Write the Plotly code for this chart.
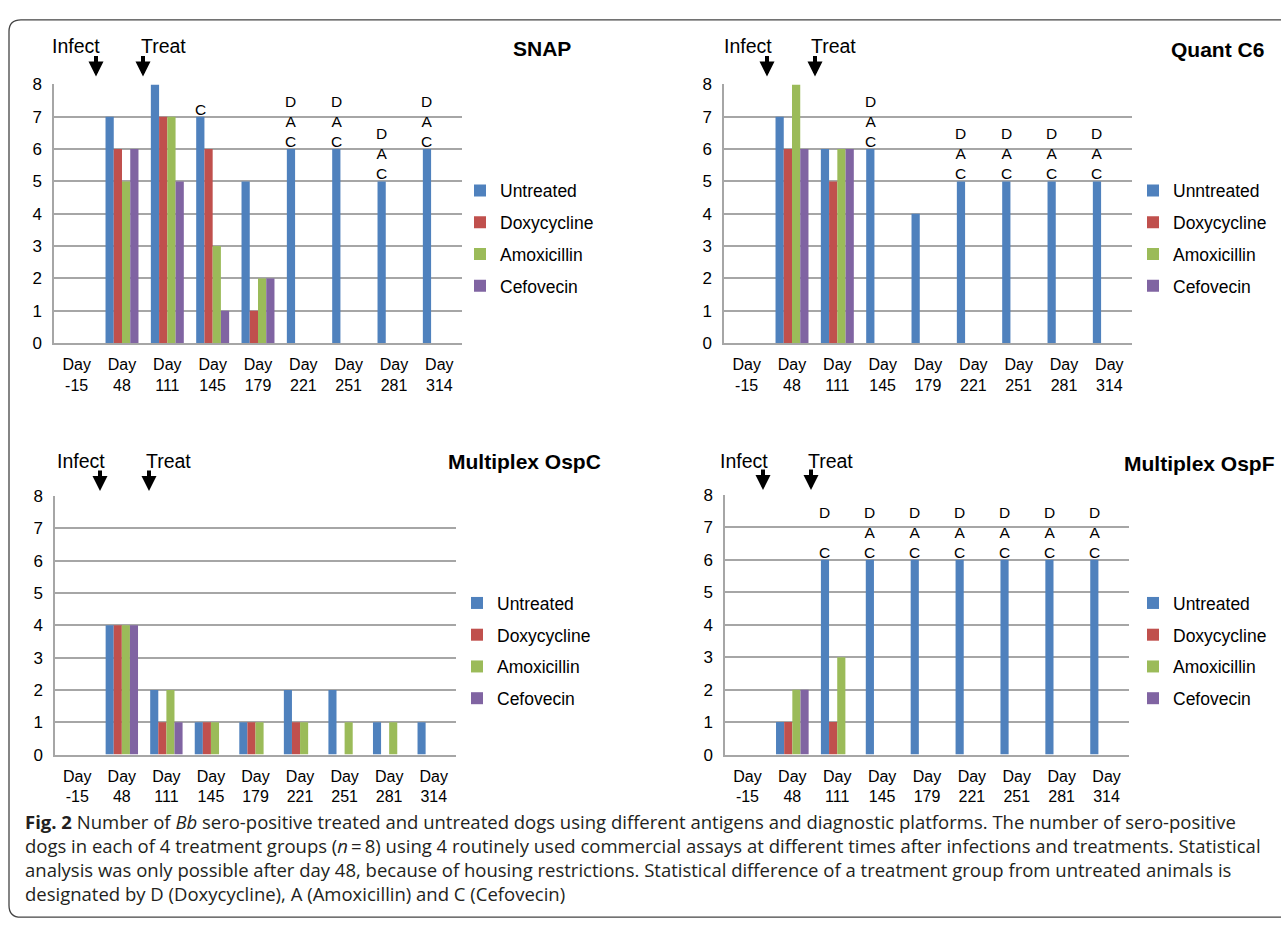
import plotly.graph_objects as go

W, H = 1281, 937

# ---------------- data ----------------
days = ["Day<br>-15", "Day<br>48", "Day<br>111", "Day<br>145", "Day<br>179",
        "Day<br>221", "Day<br>251", "Day<br>281", "Day<br>314"]
groups = ["Untreated", "Doxycycline", "Amoxicillin", "Cefovecin"]
groups_c6 = ["Unntreated", "Doxycycline", "Amoxicillin", "Cefovecin"]
colors = ["#4F81BD", "#C0504D", "#9BBB59", "#8064A2"]

snap_untreated = [0, 7, 8, 7, 5, 6, 6, 5, 6]
snap_doxy = [0, 6, 7, 6, 1, 0, 0, 0, 0]
snap_amox = [0, 5, 7, 3, 2, 0, 0, 0, 0]
snap_cefo = [0, 6, 5, 1, 2, 0, 0, 0, 0]
snap_sig = ["", "", "", "C", "", "D<br>A<br>C", "D<br>A<br>C", "D<br>A<br>C", "D<br>A<br>C"]

c6_untreated = [0, 7, 6, 6, 4, 5, 5, 5, 5]
c6_doxy = [0, 6, 5, 0, 0, 0, 0, 0, 0]
c6_amox = [0, 8, 6, 0, 0, 0, 0, 0, 0]
c6_cefo = [0, 6, 6, 0, 0, 0, 0, 0, 0]
c6_sig = ["", "", "", "D<br>A<br>C", "", "D<br>A<br>C", "D<br>A<br>C", "D<br>A<br>C", "D<br>A<br>C"]

ospc_untreated = [0, 4, 2, 1, 1, 2, 2, 1, 1]
ospc_doxy = [0, 4, 1, 1, 1, 1, 0, 0, 0]
ospc_amox = [0, 4, 2, 1, 1, 1, 1, 1, 0]
ospc_cefo = [0, 4, 1, 0, 0, 0, 0, 0, 0]
ospc_sig = ["", "", "", "", "", "", "", "", ""]

ospf_untreated = [0, 1, 6, 6, 6, 6, 6, 6, 6]
ospf_doxy = [0, 1, 1, 0, 0, 0, 0, 0, 0]
ospf_amox = [0, 2, 3, 0, 0, 0, 0, 0, 0]
ospf_cefo = [0, 2, 0, 0, 0, 0, 0, 0, 0]
ospf_sig = ["", "", "D<br>\u00a0<br>C", "D<br>A<br>C", "D<br>A<br>C", "D<br>A<br>C",
            "D<br>A<br>C", "D<br>A<br>C", "D<br>A<br>C"]

yticks = [0, 1, 2, 3, 4, 5, 6, 7, 8]

caption_lines = [
    "<b>Fig. 2</b> Number of <i>Bb</i> sero-positive treated and untreated dogs using different antigens and diagnostic platforms. The number of sero-positive",
    "dogs in each of 4 treatment groups (<i>n</i>\u2009=\u20098) using 4 routinely used commercial assays at different times after infections and treatments. Statistical",
    "analysis was only possible after day 48, because of housing restrictions. Statistical difference of a treatment group from untreated animals is",
    "designated by D (Doxycycline), A (Amoxicillin) and C (Cefovecin)",
]

# ---------------- layout geometry (pixels) ----------------
FONT = "Liberation Sans, Arial, sans-serif"
panels = [
    dict(title="SNAP", names=groups, vals=[snap_untreated, snap_doxy, snap_amox, snap_cefo], sig=snap_sig,
         box=(54, 462, 77, 341), title_xy=(542, 40), infect=(76, 38, 96, 69), treat=(163, 38, 143, 69),
         legend=(460, 167)),
    dict(title="Quant C6", names=groups_c6, vals=[c6_untreated, c6_doxy, c6_amox, c6_cefo], sig=c6_sig,
         box=(724, 1132, 77, 341), title_xy=(1217, 41), infect=(748, 38, 767, 69), treat=(834, 38, 815, 69),
         legend=(1133, 167)),
    dict(title="Multiplex OspC", names=groups, vals=[ospc_untreated, ospc_doxy, ospc_amox, ospc_cefo], sig=ospc_sig,
         box=(55, 456, 497, 761), title_xy=(524, 462), infect=(81, 461, 100, 492), treat=(168, 461, 149, 492),
         legend=(457, 588)),
    dict(title="Multiplex OspF", names=groups, vals=[ospf_untreated, ospf_doxy, ospf_amox, ospf_cefo], sig=ospf_sig,
         box=(725, 1129, 496, 761), title_xy=(1199, 464), infect=(744, 461, 763, 491), treat=(830, 461, 811, 491),
         legend=(1133, 588)),
]

BARGAP = 0.273
n_series = 4
bar_w = (1 - BARGAP) / n_series
blue_offset = -(1 - BARGAP) / 2 + bar_w / 2

GRID = "#A6A6A6"

fig = go.Figure()
annotations = []
layout_axes = {}

for k, p in enumerate(panels, start=1):
    sfx = "" if k == 1 else str(k)
    lg = "legend" if k == 1 else f"legend{k}"
    for j, (name, vals) in enumerate(zip(p["names"], p["vals"])):
        fig.add_trace(go.Bar(
            x=days, y=vals, name=name, marker=dict(color=colors[j], line=dict(width=0)),
            xaxis=f"x{sfx}", yaxis=f"y{sfx}", legend=lg, legendgroup=f"g{k}_{j}",
            hoverinfo="skip",
        ))
    x0, x1, y0, y1 = p["box"]
    layout_axes[f"xaxis{sfx}"] = dict(
        domain=[x0 / W, x1 / W], anchor=f"y{sfx}", type="category",
        categoryorder="array", categoryarray=days, range=[-0.5, len(days) - 0.5],
        showline=True, linecolor=GRID, linewidth=1.5, showgrid=False,
        ticks="", ticklabelstandoff=6,
        tickfont=dict(family=FONT, size=16, color="#000"), fixedrange=True,
    )
    layout_axes[f"yaxis{sfx}"] = dict(
        domain=[1 - y1 / H, 1 - y0 / H], anchor=f"x{sfx}", range=[0, 8],
        tickvals=yticks, showline=True, linecolor=GRID, linewidth=1.5,
        showgrid=True, gridcolor=GRID, gridwidth=1.5, zeroline=False,
        ticks="", ticklabelstandoff=7,
        tickfont=dict(family=FONT, size=17, color="#000"), fixedrange=True,
    )
    lx, ly = p["legend"]
    layout_axes[lg] = dict(
        x=lx / W, y=1 - ly / H, xanchor="left", yanchor="top",
        font=dict(family=FONT, size=17.5, color="#000"), traceorder="grouped",
        tracegroupgap=6, bgcolor="rgba(0,0,0,0)",
    )
    # significance letters above the untreated bars
    for i, s in enumerate(p["sig"]):
        if s:
            annotations.append(dict(
                xref=f"x{sfx}", yref=f"y{sfx}", x=i + blue_offset, y=p["vals"][0][i],
                text=s, showarrow=False, yanchor="bottom", xanchor="center", yshift=-3,
                font=dict(family=FONT, size=15.5, color="#000"),
            ))
    # titles
    tx, ty = p["title_xy"]
    annotations.append(dict(xref="paper", yref="paper", x=tx / W, y=1 - ty / H, text=f"<b>{p['title']}</b>",
                            showarrow=False, xanchor="center", yanchor="middle",
                            font=dict(family=FONT, size=21, color="#000")))
    # Infect / Treat labels and arrows
    for lab, (txx, tyy, axx, ayy) in (("Infect", p["infect"]), ("Treat", p["treat"])):
        annotations.append(dict(xref="paper", yref="paper", x=txx / W, y=1 - tyy / H, text=lab,
                                showarrow=False, xanchor="center", yanchor="middle",
                                font=dict(family=FONT, size=19.5, color="#000")))
        annotations.append(dict(xref="paper", yref="paper", x=axx / W, y=1 - ayy / H, text="",
                                showarrow=True, arrowhead=2, arrowsize=0.75, arrowwidth=4,
                                arrowcolor="#000", ax=0, ay=-22))

# caption (one block, left aligned)
annotations.append(dict(xref="paper", yref="paper", x=23 / W, y=1 - 866 / H, text="<br>".join(caption_lines),
                        showarrow=False, xanchor="left", yanchor="middle", align="left",
                        font=dict(family="Open Sans, sans-serif", size=18.5, color="#231F20")))


def px(x):
    return x / W


def py(y):
    return 1 - y / H


# outer rounded frame (open on the right, like the cropped original)
r = 12
left, top, bottom, right = 9, 11, 927, 1300
frame_path = (f"M {px(right)},{py(top)} L {px(left + r)},{py(top)} "
              f"Q {px(left)},{py(top)} {px(left)},{py(top + r)} L {px(left)},{py(bottom - r)} "
              f"Q {px(left)},{py(bottom)} {px(left + r)},{py(bottom)} L {px(right)},{py(bottom)}")

fig.update_layout(
    width=W, height=H, margin=dict(l=0, r=0, t=0, b=0), autosize=False,
    paper_bgcolor="white", plot_bgcolor="white",
    barmode="group", bargap=BARGAP, bargroupgap=0,
    showlegend=True, annotations=annotations,
    font=dict(family=FONT, color="#000"),
    shapes=[dict(type="path", xref="paper", yref="paper", path=frame_path,
                 line=dict(color="#444", width=1.3))],
    **layout_axes,
)

fig.write_html(
    "out.html",
    config={"displayModeBar": False},
    post_script=("document.body.style.margin='0px';"
                 "document.body.style.overflow='hidden';"
                 "document.documentElement.style.overflow='hidden';"),
)
